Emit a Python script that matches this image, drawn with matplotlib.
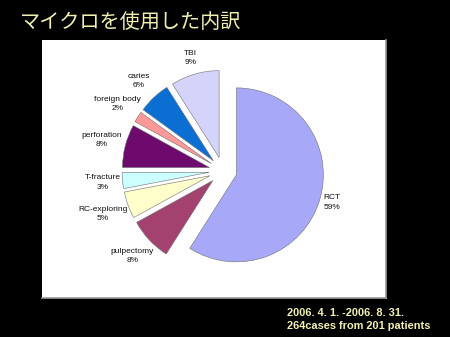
import numpy as np
import matplotlib
matplotlib.use("Agg")
import matplotlib.pyplot as plt
from matplotlib.patches import Rectangle

# データ（Excel順：12時から時計回り）
cats = ['RCT', 'pulpectomy', 'RC-exploring', 'T-fracture',
        'perforation', 'foreign body', 'caries', 'TBI']
pct = [59, 8, 5, 3, 8, 2, 6, 9]
colors = ['#a8a8f8', '#a3426f', '#ffffcc', '#ccffff',
          '#6e0a6e', '#ff9898', '#0a6ed2', '#d4d4fa']
lab_dist = [1.14, 1.27, 1.31, 1.23, 1.28, 1.28, 1.26, 1.19]

title = 'マイクロを使用した内訳'
note = ['2006. 4. 1. -2006. 8. 31.', '264cases from 201 patients']

W, H = 450, 337
R = 87.0            # pie radius in px
cx, cy = 223, 171   # pie centre in px from top-left

fig = plt.figure(figsize=(W / 100, H / 100), dpi=100, facecolor='black')

# white chart area (behind the axes)
fig.patches.append(Rectangle((42 / W, (H - 298) / H), (386 - 42) / W, (298 - 40) / H,
                             transform=fig.transFigure, facecolor='white',
                             edgecolor='none', zorder=-2))
fig.add_artist(plt.Line2D([386 / W, 386 / W], [(H - 298) / H, (H - 40) / H],
                          transform=fig.transFigure, color='#9a9a9a', lw=1.2, zorder=-1))
fig.add_artist(plt.Line2D([42 / W, 386 / W], [(H - 298) / H, (H - 298) / H],
                          transform=fig.transFigure, color='#9a9a9a', lw=1.2, zorder=-1))

ax = fig.add_axes([0, 0, 1, 1])
ax.patch.set_alpha(0)
wedges, _ = ax.pie(pct, colors=colors, startangle=90, counterclock=False,
                   explode=[0.16] * len(pct),
                   wedgeprops=dict(edgecolor='#707070', linewidth=0.4))

for w, name, p, d in zip(wedges, cats, pct, lab_dist):
    ang = np.deg2rad((w.theta1 + w.theta2) / 2)
    x0, y0 = w.center
    ax.text(x0 + d * w.r * np.cos(ang), y0 + d * w.r * np.sin(ang),
            f'{name}\n{p}%', ha='center', va='center', fontsize=6,
            family='Liberation Sans', color='#111111', linespacing=1.45)

ax.set_xlim(-cx / R, (W - cx) / R)
ax.set_ylim(-(H - cy) / R, cy / R)
ax.set_aspect('auto')
ax.axis('off')

fig.text(20 / W, 1 - 22 / H, title, family=['Noto Sans CJK JP', 'DejaVu Sans'],
         fontsize=14.5, color='#f2efb2', va='center', ha='left')
fig.text(287 / W, 1 - 313 / H, note[0], family='Liberation Sans', weight='bold',
         fontsize=7.9, color='#f2efb2', va='center', ha='left')
fig.text(287 / W, 1 - 326 / H, note[1], family='Liberation Sans', weight='bold',
         fontsize=7.9, color='#f2efb2', va='center', ha='left')

fig.savefig('out.png', dpi=100, facecolor='black')
